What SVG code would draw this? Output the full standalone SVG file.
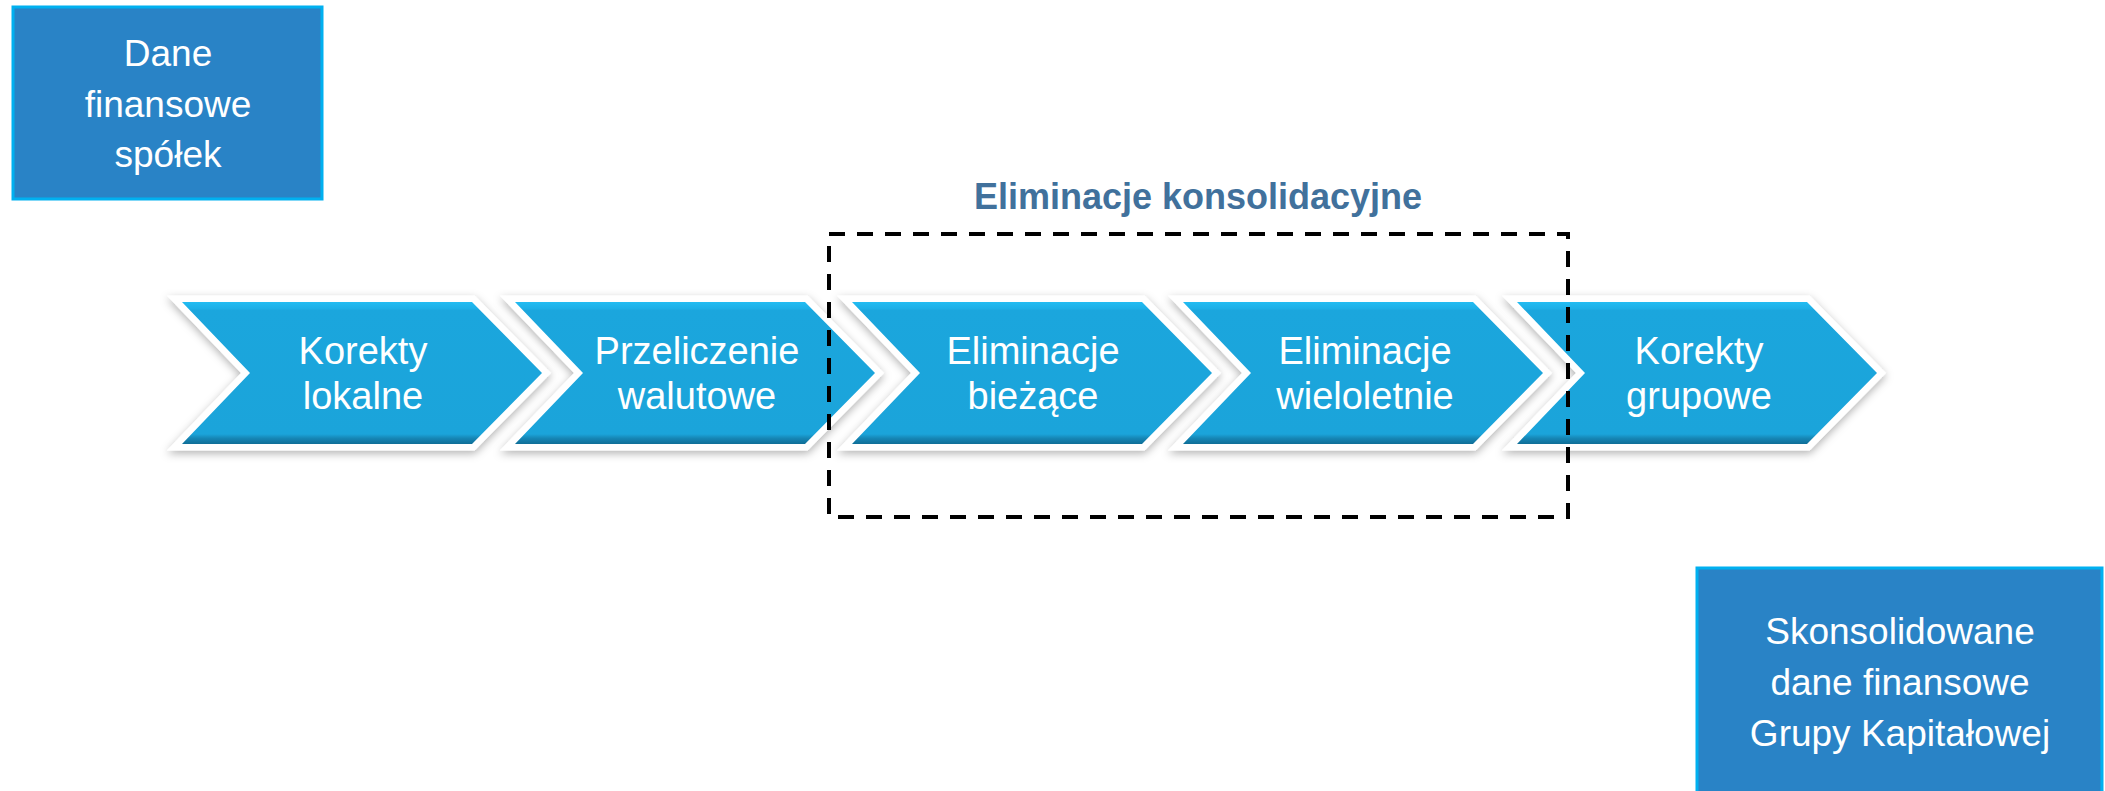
<svg xmlns="http://www.w3.org/2000/svg" xmlns:xlink="http://www.w3.org/1999/xlink" width="2105" height="791" viewBox="0 0 2105 791">
  <style>
    .box { fill: #2983C6; stroke: #00B0F0; stroke-width: 3; }
    .boxtxt { font-family: "Liberation Sans", Arial, sans-serif; font-size: 37px; fill: #FFFFFF; text-anchor: middle; }
    .chevtxt { font-family: "Liberation Sans", Arial, sans-serif; font-size: 38px; fill: #FFFFFF; text-anchor: middle; }
    .outline { fill: #FFFFFF; stroke: #FFFFFF; stroke-width: 13; stroke-linejoin: miter; stroke-miterlimit: 10; filter: url(#shadow); }
    .body { fill: url(#chevGrad); }
    .title { font-family: "Liberation Sans", Arial, sans-serif; font-size: 36px; font-weight: bold; fill: #41719C; text-anchor: middle; }
    .frame { fill: none; stroke: #000000; stroke-width: 4; stroke-dasharray: 16 12; }
  </style>
  <defs>
    <linearGradient id="chevGrad" x1="0" y1="0" x2="0" y2="1">
      <stop offset="0" stop-color="#22BCF2"/>
      <stop offset="0.045" stop-color="#1DB0E8"/>
      <stop offset="0.06" stop-color="#1BA6DD"/>
      <stop offset="0.93" stop-color="#1BA4DA"/>
      <stop offset="0.96" stop-color="#1686B5"/>
      <stop offset="1" stop-color="#0F6E97"/>
    </linearGradient>
    <filter id="shadow" x="-10%" y="-20%" width="120%" height="150%">
      <feDropShadow dx="0" dy="3" stdDeviation="4" flood-color="#000000" flood-opacity="0.3"/>
    </filter>
    <polygon id="chev" points="0,0 290,0 360,71 290,142 0,142 68,71"/>
  </defs>
  <rect width="2105" height="791" fill="#FFFFFF"/>

  <g id="node-dane-finansowe">
    <rect class="box" x="13" y="7" width="309" height="192"/>
    <text class="boxtxt" x="168" y="66">Dane</text>
    <text class="boxtxt" x="168" y="117">finansowe</text>
    <text class="boxtxt" x="168" y="167">spółek</text>
  </g>

  <g id="node-korekty-lokalne">
    <use xlink:href="#chev" class="outline" x="182" y="302"/>
    <use xlink:href="#chev" class="body" x="182" y="302"/>
    <text class="chevtxt" x="363" y="364">Korekty</text>
    <text class="chevtxt" x="363" y="409">lokalne</text>
  </g>

  <g id="node-przeliczenie-walutowe">
    <use xlink:href="#chev" class="outline" x="515" y="302"/>
    <use xlink:href="#chev" class="body" x="515" y="302"/>
    <text class="chevtxt" x="697" y="364">Przeliczenie</text>
    <text class="chevtxt" x="697" y="409">walutowe</text>
  </g>

  <g id="node-eliminacje-biezace">
    <use xlink:href="#chev" class="outline" x="852" y="302"/>
    <use xlink:href="#chev" class="body" x="852" y="302"/>
    <text class="chevtxt" x="1033" y="364">Eliminacje</text>
    <text class="chevtxt" x="1033" y="409">bieżące</text>
  </g>

  <g id="node-eliminacje-wieloletnie">
    <use xlink:href="#chev" class="outline" x="1183" y="302"/>
    <use xlink:href="#chev" class="body" x="1183" y="302"/>
    <text class="chevtxt" x="1365" y="364">Eliminacje</text>
    <text class="chevtxt" x="1365" y="409">wieloletnie</text>
  </g>

  <g id="node-korekty-grupowe">
    <use xlink:href="#chev" class="outline" x="1517" y="302"/>
    <use xlink:href="#chev" class="body" x="1517" y="302"/>
    <text class="chevtxt" x="1699" y="364">Korekty</text>
    <text class="chevtxt" x="1699" y="409">grupowe</text>
  </g>

  <g id="group-eliminacje-konsolidacyjne">
    <text class="title" x="1198" y="209">Eliminacje konsolidacyjne</text>
    <rect class="frame" x="829" y="234" width="739" height="283"/>
  </g>

  <g id="node-skonsolidowane">
    <rect class="box" x="1697" y="568" width="405" height="240"/>
    <text class="boxtxt" x="1900" y="644">Skonsolidowane</text>
    <text class="boxtxt" x="1900" y="695">dane finansowe</text>
    <text class="boxtxt" x="1900" y="746">Grupy Kapitałowej</text>
  </g>

  <g id="connectors"/>
</svg>
